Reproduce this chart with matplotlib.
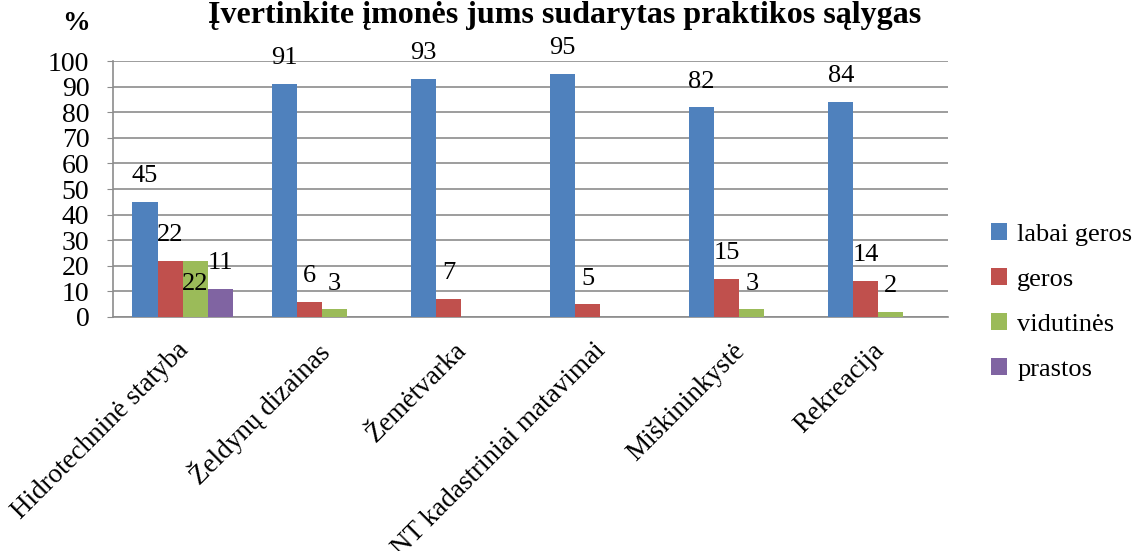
import matplotlib
matplotlib.use("Agg")
import matplotlib.pyplot as plt
import matplotlib.transforms as mtransforms
import numpy as np

plt.rcParams['font.family'] = ['Liberation Serif', 'DejaVu Serif']

categories = ["Hidrotechninė statyba", "Želdynų dizainas", "Žemėtvarka",
              "NT kadastriniai matavimai", "Miškininkystė", "Rekreacija"]
series_names = ["labai geros", "geros", "vidutinės", "prastos"]
labai_geros = [45, 91, 93, 95, 82, 84]
geros = [22, 6, 7, 5, 15, 14]
vidutines = [22, 3, 0, 0, 3, 2]
prastos = [11, 0, 0, 0, 0, 0]
colors = ["#4F81BD", "#C0504D", "#9BBB59", "#8064A2"]

fig = plt.figure(figsize=(11.47, 5.51), dpi=100)
ax = fig.add_axes([0.0985, 0.4247, 0.728, 0.4643])

x = np.arange(len(categories))
w = 0.18
all_series = [labai_geros, geros, vidutines, prastos]
for i, (vals, name, c) in enumerate(zip(all_series, series_names, colors)):
    pos = x + (i - 1.5) * w
    bars = ax.bar(pos, vals, w, color=c, label=name, zorder=3)
    for j, (b, v) in enumerate(zip(bars, vals)):
        if v <= 0:
            continue
        dy = 18.5
        # overlapping label in first group is pushed below the bar top
        if i == 2 and j == 0:
            dy = -17
        ax.annotate(str(v), (b.get_x() + b.get_width() / 2, v), xytext=(0, dy),
                    textcoords='offset points', ha='center', va='center', fontsize=19)

ax.set_xlim(-0.5, len(categories) - 0.5)
ax.set_ylim(0, 100)
ax.set_yticks(np.arange(0, 101, 10))
ax.grid(axis='y', color='#8c8c8c', linewidth=1.2, zorder=0)
ax.set_axisbelow(True)
for s in ['top', 'right']:
    ax.spines[s].set_visible(False)
for s in ['left', 'bottom']:
    ax.spines[s].set_color('#8c8c8c')
    ax.spines[s].set_linewidth(1.2)
ax.tick_params(axis='y', labelsize=20, length=4, color='#8c8c8c', pad=13)
ax.tick_params(axis='x', length=0, pad=15)
ax.set_xticks(x)
ax.set_xticklabels(categories, rotation=45, ha='right', rotation_mode='anchor', fontsize=19.5)
shift = mtransforms.ScaledTranslation(-0.07, 0, fig.dpi_scale_trans)
for lbl in ax.get_xticklabels():
    lbl.set_transform(lbl.get_transform() + shift)

fig.text(0.492, 0.972, "Įvertinkite įmonės jums sudarytas praktikos sąlygas",
         ha='center', va='center', fontsize=23, fontweight='bold')
fig.text(0.066, 0.958, "%", ha='center', va='center', fontsize=20, fontweight='bold')

fig.legend(loc='center left', bbox_to_anchor=(0.843, 0.452), frameon=False, fontsize=19,
           handlelength=0.6, handleheight=0.6, labelspacing=0.85, handletextpad=0.4)

fig.savefig("out.png", dpi=100)
